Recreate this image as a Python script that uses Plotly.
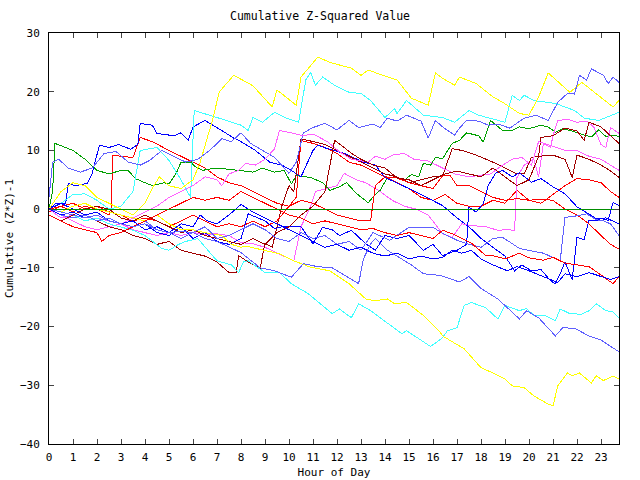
import plotly.graph_objects as go

# ---------------- data (hours, cumulative (Z*Z)-1) ----------------
yellow_hi_h = [0, 0.5, 1, 1.5, 2, 2.5, 3, 3.5, 4, 4.3, 4.6, 5, 5.5, 6, 6.3, 6.8, 7.1, 7.7, 8.5, 9.3, 9.5, 10.3, 10.5, 11.2, 11.7, 12.6, 13, 13.3, 13.9, 14.5, 15.1, 15.8, 16.1, 16.4, 16.9, 17.1, 17.8, 18.5, 18.9, 19.6, 20.0, 20.4, 20.8, 21.7, 22.2, 22.6, 23.5, 23.75]
yellow_hi_v = [0, 3, 4.5, 4, 2, 1, 0, -1, 1, 3.5, 5.5, 4, 3.5, 5, 8, 15, 20, 22.8, 21, 17.4, 20.3, 17.7, 22.5, 25.9, 25, 24, 22.8, 23.7, 22.8, 22, 18.9, 17.7, 23.2, 22.3, 21.1, 22.5, 21.4, 19.1, 18.2, 16.3, 16, 19.1, 23.2, 19.9, 21.6, 20.3, 17.4, 18.5]

yellow_lo_h = [0, 0.5, 1, 1.5, 2, 3, 4, 4.5, 5, 5.5, 6, 6.5, 7.2, 7.6, 8, 8.2, 9.6, 10.2, 10.9, 11.7, 12.5, 13.2, 13.6, 14.1, 14.4, 14.9, 15.6, 16.3, 16.4, 17.3, 18.0, 18.5, 19.0, 19.3, 19.8, 20.2, 20.8, 21.0, 21.2, 21.6, 21.8, 22.1, 22.6, 22.8, 23.1, 23.5, 23.75]
yellow_lo_v = [0, -0.5, 0.5, 1, 0, -1, -2, -1, -2.5, -3.5, -3.5, -4, -4.5, -6, -6.5, -6.3, -7.6, -8.8, -9.9, -10.5, -12.7, -15.3, -15.6, -15.3, -16.1, -15.9, -18.1, -21, -21.6, -23.8, -27, -27.9, -28.9, -30.1, -30.4, -31.8, -33.2, -33.5, -30.1, -27.9, -28.4, -27.9, -29.6, -28.4, -29.2, -28.4, -28.9]

cyan_hi_h = [0, 0.5, 1, 1.5, 2, 2.5, 3, 3.5, 3.8, 4.5, 5.0, 5.5, 5.9, 6.05, 7, 8, 8.3, 8.5, 8.9, 9.4, 9.9, 10.4, 10.7, 10.9, 11.1, 11.4, 11.9, 12.5, 13, 13.4, 14, 14.4, 14.5, 14.9, 15.6, 16.4, 16.9, 17.5, 17.9, 19.0, 19.3, 19.6, 19.8, 20.2, 21.1, 21.9, 22.3, 22.9, 23.75]
cyan_hi_v = [0, 1, 2.5, 2.6, 1.5, 0, 0.5, 3, 10, 10.5, 8.3, 5, 2, 16.8, 15.6, 14.3, 13.4, 15.6, 14.8, 16.5, 15.5, 14.8, 22, 23.3, 21.1, 22.5, 21.1, 19.9, 19.7, 18.5, 15.6, 17.1, 16.3, 18.5, 16, 15.6, 14.8, 16.8, 16, 14.8, 19.4, 18.5, 19.4, 18.5, 18, 16.8, 15.5, 15.1, 16.5]

cyan_lo_h = [0, 0.5, 1, 1.5, 2, 2.5, 3, 3.5, 4, 4.7, 5, 5.4, 5.7, 6.2, 7, 7.6, 7.9, 8.1, 8.3, 9, 9.6, 10.1, 10.8, 11.8, 12.1, 12.6, 12.9, 13.4, 14.1, 14.7, 14.9, 15.5, 15.9, 16.4, 16.6, 17.0, 17.3, 17.6, 18.2, 18.7, 19.0, 19.6, 19.9, 20.2, 20.7, 21.1, 21.3, 21.7, 22.2, 22.5, 22.8, 23.2, 23.5, 23.75]
cyan_lo_v = [0, -0.5, -1, -2, -1.5, -2.5, -3, -3.6, -4.5, -6.7, -7, -6, -5.5, -5, -8.8, -9.5, -10.8, -9, -8.8, -10.8, -10.8, -12.7, -14.4, -17.8, -17, -18.5, -16.1, -17.3, -19.4, -21.2, -20.7, -22.4, -23.4, -21.9, -20.7, -20.2, -16.4, -15.9, -16.8, -18.7, -16.4, -17.3, -16.9, -18.1, -18.2, -19, -17, -17.8, -17.9, -17.3, -16.1, -17.3, -17.5, -18.5]

mblue_hi_h = [0, 0.15, 0.4, 0.8, 1.3, 1.8, 2.3, 2.8, 3.3, 3.8, 4.2, 4.7, 5.2, 5.7, 6.2, 6.7, 7.2, 7.6, 8, 8.4, 9.4, 10, 10.3, 10.6, 11, 11.5, 12, 12.5, 12.9, 13.5, 13.8, 14.1, 14.5, 14.9, 15.5, 15.8, 16.1, 16.4, 16.9, 17.1, 17.4, 17.9, 18.3, 18.7, 19.2, 19.8, 20.3, 20.8, 21.2, 21.6, 21.9, 22.1, 22.4, 22.6, 23.1, 23.3, 23.5, 23.75]
mblue_hi_v = [2, 8, 8.5, 7, 6.3, 7, 9.5, 9.8, 8, 7.5, 8.3, 10, 9, 8, 8.5, 10, 12, 11.5, 13, 11.2, 8.8, 6.1, 8, 13, 13.9, 14.6, 13.5, 15.1, 13.9, 14.5, 13.9, 15.5, 15, 16, 15, 12.1, 15.1, 14, 12.6, 13.8, 15.1, 15, 14.3, 14.5, 13.8, 15.5, 16, 15.1, 18.2, 19.7, 19.6, 22.8, 22, 23.9, 22.8, 21.4, 22.5, 21.6]

mblue_mid_h = [0, 0.5, 1, 1.5, 2, 2.5, 3, 3.5, 4, 4.5, 5, 5.5, 6, 6.5, 7, 7.5, 8, 8.5, 9, 9.5, 10, 10.5, 11, 11.5, 12, 12.5, 13, 13.5, 14.2, 15, 16, 16.4, 17, 17.5, 18, 18.5, 18.9, 19.6, 20.6, 21.3, 21.5, 21.9, 22.4, 22.8, 23.1, 23.4, 23.75]
mblue_mid_v = [0, -1, -1.5, -1, -2, -1.5, -2.5, -3, -2, -3.5, -4, -5, -4, -3, -5, -4.5, -3.5, -2.5, -3.5, -5, -5.5, -4, -5, -4.5, -6, -5.5, -7, -4, -5.3, -3.1, -3.1, -4.1, -5.3, -6, -6.5, -5, -4.8, -6.7, -7.5, -8.8, -1.4, -1.2, -0.8, -1.8, -2, -2.5, -4.5]

mblue_lo_h = [0, 0.5, 1, 1.5, 2, 2.5, 3, 3.5, 4, 4.5, 5, 5.5, 6, 6.5, 7, 7.5, 8, 8.8, 9.4, 10.1, 10.6, 11.2, 11.8, 12.9, 13.1, 13.4, 13.6, 14.1, 14.6, 15.1, 15.6, 16.3, 17.1, 17.5, 18.0, 18.7, 19.1, 19.6, 19.9, 20.4, 21.1, 21.4, 21.9, 22.5, 23.0, 23.75]
mblue_lo_v = [0, -0.5, -1, -1.5, -1, -2, -2.5, -3, -2.5, -3.5, -4, -3.8, -4, -5, -5.5, -6.5, -7.4, -10, -10.5, -11.6, -9.3, -9.8, -10, -12.7, -8.5, -5.9, -5, -7, -8.2, -9.5, -11, -11.3, -12.4, -11.5, -13.5, -15.3, -16.8, -18.7, -17.3, -18.5, -21.6, -20.2, -20.3, -21.6, -22.3, -24.3]

blue_a_h = [0, 0.3, 0.7, 0.8, 1.1, 1.6, 1.8, 2.1, 2.5, 2.9, 3.4, 3.7, 3.8, 4.3, 4.5, 5.2, 5.5, 5.8, 6.0, 6.5, 7.2, 7.7, 8.0, 8.6, 9.2, 9.7, 10.1, 10.5, 11, 11.2, 11.6, 12.3, 13.1, 13.6, 14.0, 14.5, 15, 15.5, 16, 16.4, 17, 17.5, 18, 18.5, 19, 19.4, 19.7, 20.1, 20.5, 20.9, 21.1, 21.3, 21.5, 21.8, 22.0, 22.3, 22.5, 22.8, 23.0, 23.3, 23.5, 23.75]
blue_a_v = [0, 1, 1, 4.4, 4, 4.4, 6.1, 10.9, 10.5, 11, 10.2, 11, 14.6, 14.3, 12.9, 12.5, 13, 11.7, 14, 15.1, 13.4, 12.1, 11.5, 10, 8, 7.5, 6.6, 5.5, 10, 10.9, 10.3, 9.5, 8, 7.5, 5.4, 4.5, 3.5, 2.5, 1.5, 0.6, -1.5, -3, -5, -6.5, -8, -10.5, -9.5, -10.5, -10.3, -12.2, -12.7, -11, -9, -12, -4.8, -5.2, -1.9, -2, -1.6, -1.9, 1.1, 0.6]

blue_b_h = [0, 0.5, 1, 1.5, 2, 2.5, 3, 3.5, 4, 4.5, 5, 5.5, 6, 6.5, 7, 7.5, 8, 8.3, 9, 9.4, 9.8, 10.5, 11.0, 11.4, 11.8, 12.1, 12.6, 13.2, 13.6, 14.0, 14.5, 15, 15.6, 16, 16.4, 17, 17.4, 17.5, 17.8, 18.1, 18.3, 18.6, 18.9, 19.3, 19.6, 20.1, 20.5, 21, 21.5, 22, 22.4, 22.8, 23.2, 23.5, 23.75]
blue_b_v = [0, 1, 0, -1, -0.5, -2, -2.5, -3, -2.5, -4, -4.5, -3, -5, -4, -5.5, -6, -5, -0.8, -2, -3.3, -2.9, -3, -5.9, -3.1, -3.5, -4.5, -3.6, -5.9, -7, -4.5, -5, -4.5, -7, -6, -7.9, -7, -6, 0.3, -0.5, 1, 4, 6.1, 6.6, 5.5, 6.2, 4.6, 5.2, 3.8, 2.6, 0.4, -0.6, -1.6, -1.5, -2, -2.5]

blue_c_h = [0, 0.5, 1, 1.5, 2, 2.5, 3, 3.5, 4, 4.5, 5, 5.5, 6, 6.3, 6.6, 7, 7.5, 8, 8.5, 9, 9.5, 10, 10.5, 11, 11.5, 12, 12.5, 13, 13.5, 14, 14.5, 15, 15.5, 16, 16.4, 16.8, 17.2, 17.6, 18, 18.5, 19.1, 19.5, 20, 20.6, 21.2, 21.5, 22, 22.5, 23, 23.4, 23.75]
blue_c_v = [0, -1, -0.5, -1.5, -1, -2, -2.5, -2, -3.5, -3, -4, -2.5, -3, -1, -2, -2.5, -1, 0.8, -0.5, -1.5, -2.5, -3.5, -4.5, -5.5, -6.5, -6, -7, -6.5, -7.5, -8, -7.5, -8.5, -8, -8.5, -8.2, -7, -7.5, -7, -8.5, -9.5, -10.5, -9.8, -10.5, -11.5, -12.5, -11, -11.5, -10.8, -11.5, -12, -11.5]

green_h = [0, 0.15, 0.25, 1, 1.5, 2, 2.5, 3, 3.3, 3.6, 4, 4.3, 4.8, 5, 5.3, 5.5, 5.9, 6.1, 6.4, 6.9, 7.5, 8.0, 8.5, 8.9, 9.4, 9.8, 10.1, 10.3, 10.9, 11.4, 11.7, 12.1, 12.4, 12.8, 13.3, 13.6, 13.8, 14.1, 14.5, 14.8, 15.1, 15.4, 15.6, 15.9, 16.1, 16.4, 16.8, 17.1, 17.4, 17.9, 18.1, 18.4, 18.9, 19.3, 19.6, 20, 20.5, 20.8, 21.1, 21.4, 21.8, 22.3, 22.6, 22.9, 23.2, 23.5, 23.75]
green_v = [0, 3, 11.2, 10, 8.5, 6.6, 6, 6.6, 6.6, 5.2, 4.5, 4, 4.5, 4.3, 6.1, 8, 8, 7.2, 6.6, 7, 6.8, 6.6, 6.3, 7, 6.3, 6.6, 4.3, 5.7, 5.4, 4.5, 3.2, 3.8, 4.5, 2.7, 1.1, 2.5, 3.2, 5.4, 5.4, 4.9, 5.9, 5.5, 7.8, 7.5, 8.8, 8.6, 11.2, 11.7, 13, 12.5, 11.4, 15.1, 13.4, 13.4, 14, 13.7, 14.3, 14, 13.1, 13.7, 13.3, 12.6, 12.3, 13.5, 12.4, 12.6, 12.4]

dred_a_h = [0, 0.5, 1, 1.5, 2, 2.5, 3, 3.5, 4, 4.5, 5, 5.5, 6, 6.5, 7, 7.5, 7.8, 7.9, 8.3, 8.8, 9.0, 9.3, 9.7, 10.0, 10.2, 10.5, 11, 11.5, 12, 12.5, 13, 13.5, 14, 14.5, 15, 15.5, 16, 16.4, 16.6, 16.8, 17.2, 17.8, 18.5, 19, 19.5, 19.8, 20.1, 20.4, 20.5, 21, 21.5, 22, 22.3, 22.5, 23, 23.4, 23.75]
dred_a_v = [0, -1, -1.5, -1, -2, -3, -3.5, -4.5, -5, -6, -5.5, -7, -7.5, -8, -9, -10.8, -10.8, -7.9, -9, -10, -5.8, -6.5, 0.5, 4, 3, 12, 11.5, 11, 10, 9, 8, 7, 6, 5.5, 4.5, 5, 5.5, 5.7, 8, 10.3, 10, 9.2, 8, 7, 6, 6, 8.8, 9, 12.2, 12.5, 13.8, 13.3, 11.7, 14.8, 14, 12.5, 11.2]

dred_b_h = [0, 0.5, 1, 1.5, 2, 2.5, 3, 3.5, 4, 4.5, 5, 5.5, 6, 6.5, 7, 7.5, 8, 8.5, 9, 9.5, 10, 10.5, 11, 11.5, 11.9, 12.3, 12.6, 13, 13.5, 14, 14.5, 15, 15.5, 16, 16.5, 17, 17.5, 18, 18.5, 19, 19.5, 20, 20.4, 21, 21.5, 21.8, 22, 22.5, 23, 23.4, 23.75]
dred_b_v = [-1, -2, -1, 0, 0.5, 0, -1.5, -2, -1, -2, -3, -4, -3.5, -4.5, -5, -5.5, -6, -5, -6, -4, -3, -1, 0.5, 3, 11.7, 10.5, 9.5, 8.5, 7.5, 7, 5.3, 5, 4, 5, 6, 6.5, 6, 5.5, 7, 5.5, 4, 5, 9, 9.2, 8.5, 5.4, 9.2, 8.5, 7.5, 6.5, 5.4]

red_a_h = [0, 0.5, 1, 1.5, 2, 2.5, 2.6, 2.65, 3, 3.5, 3.8, 4.3, 5, 5.5, 6, 6.5, 7, 7.5, 8, 8.5, 9, 9.5, 10, 10.3, 10.5, 11, 11.5, 12, 12.5, 13, 13.5, 14, 14.5, 15, 15.5, 16, 16.5, 17, 17.5, 18, 18.5, 19, 19.5, 20, 20.5, 21, 21.5, 22, 22.5, 23, 23.4, 23.75]
red_a_v = [-0.5, 0.5, -0.5, 0.5, 0, -1, 0.5, 9.2, 9, 8.8, 12.2, 11.5, 10, 9, 8, 7, 5.5, 4.5, 4, 3, 2, 1, 0.5, 2, 11.7, 11.2, 10.5, 9.5, 8, 7.5, 6.5, 5.5, 4.5, 3.5, 2, 1.5, 2.5, 1, 0.5, 0.5, 1.5, 1, 3.2, 1.5, 1, 2.5, 4, 5.2, 5, 4.5, 3, 2]

red_b_h = [0, 0.5, 1, 1.5, 2, 2.5, 3, 3.5, 4, 4.5, 5, 5.5, 6, 6.5, 7, 7.5, 8, 8.5, 9, 9.5, 10, 10.5, 11, 11.5, 12, 12.5, 13, 13.4, 13.6, 14, 14.5, 15, 15.5, 16, 16.4, 16.7, 17, 17.5, 18, 18.5, 19, 19.5, 20, 20.5, 21.0, 21.5, 22, 22.5, 23, 23.4, 23.75]
red_b_v = [0, 0.5, 1, 0, 0.5, -0.5, -1, -2, -1.5, -2, -3, -2, -1, -2, -3, -2.5, -3, -2, -3, -2, 0.5, 1.5, 1, 0, -1, -1.5, -2, -2, 4, 5.5, 5.3, 4.5, 4, 3.5, 5.7, 5.8, 4, 4, 3, 2, 1.5, 1.8, 1.5, 1.7, 1.5, 0, -1, -2.5, -4.5, -6, -6.8]

red_c_h = [0, 0.5, 1, 1.5, 2, 2.2, 2.5, 3, 3.5, 4, 4.5, 5, 5.5, 6, 6.5, 7, 7.5, 8, 8.5, 9, 9.5, 10, 10.5, 11, 11.5, 12, 12.5, 13, 13.5, 14, 14.5, 15, 15.5, 16, 16.4, 16.8, 17.2, 17.6, 18.2, 18.6, 19, 19.6, 20, 20.6, 21, 21.5, 22, 22.5, 23.1, 23.5, 23.75]
red_c_v = [-1, -2, -3, -3.5, -4, -5.5, -4.5, -4, -3, -2, -1, 0, 1, 2, 1.5, 2, 1.5, 3, 2, 1, 0, -1, -1.5, -2.5, -2, -2.5, -3, -3.5, -3.3, -4, -4.5, -4, -4.5, -5, -3.6, -4.2, -5, -5.8, -7.9, -8, -8.5, -7.5, -8.3, -8.7, -8.2, -9.2, -9.5, -9.8, -11.5, -12.7, -11.5]

mag_a_h = [0, 0.5, 1, 1.5, 2, 2.5, 3, 3.5, 4, 4.5, 5, 5.5, 6, 6.5, 7, 7.5, 8, 8.5, 9, 9.5, 10, 10.2, 10.5, 10.9, 11.1, 11.5, 12, 12.3, 12.8, 13.2, 13.8, 14.3, 14.8, 15.3, 15.8, 16.4, 16.8, 17.2, 17.6, 18.2, 18.7, 19.1, 19.4, 19.5, 19.8, 20.2, 20.4, 20.6, 20.9, 21.0, 21.2, 21.6, 22, 22.4, 22.7, 23, 23.2, 23.4, 23.75]
mag_a_v = [0, -1, -2, -3, -3.5, -3, -2.5, -3.5, -4, -4.5, -4, -4.5, -4, -4.3, -4.2, -4.5, -5.7, -5.9, -6.5, -7.5, -8.5, -8.8, -3, 0.5, 3, 3.5, 4, 6.1, 5, 4.5, 3, 1.5, 0.5, 0, -1, -4.2, -4.8, -2.5, -2.8, -3, -3.6, -3.5, -3.6, 5.4, 7.5, 8.5, 5.5, 11.2, 10.5, 12.5, 15.1, 15.3, 14.8, 15, 14, 11, 10.5, 13.9, 12.9]

mag_b_h = [0, 0.5, 1, 1.5, 2, 2.5, 3, 3.5, 4, 4.5, 5, 5.5, 6, 6.5, 7, 7.2, 7.5, 7.9, 8.2, 8.6, 9, 9.4, 9.6, 10.1, 10.6, 11, 11.6, 12.1, 12.6, 13.3, 13.6, 14, 14.3, 14.8, 15.2, 15.8, 16.4, 16.9, 17.5, 18.4, 18.9, 19.3, 19.7, 20.1, 20.4, 20.8, 21.2, 21.5, 22, 22.5, 23, 23.4, 23.75]
mag_b_v = [0, -1.5, -1, -2, -1.5, -2, -2.5, -1.5, -0.5, 0.5, 2, 3, 4, 5.5, 5, 4, 6, 6.6, 7.8, 7.5, 8.5, 10.3, 13.4, 13, 12.5, 12.8, 11.5, 9.8, 8.5, 8, 9, 8.5, 9.2, 9.5, 8.5, 8.2, 7, 6, 5.5, 6, 7.5, 8.5, 8.8, 7.5, 11.5, 11, 10.5, 10, 10, 9, 8.5, 7.5, 6.6]

zero_h = [0, 23.75]
zero_v = [0, 0]

X_RANGE = [0, 23.75]
Y_RANGE = [-40, 30]
x_ticks = list(range(0, 24))
y_ticks = [-40, -30, -20, -10, 0, 10, 20, 30]

RED, DRED, GREEN, BLUE = "#ff0000", "#a00000", "#00a000", "#0000ff"
MBLUE, MAG, CYAN, YEL = "#6060ff", "#ff60ff", "#40ffff", "#ffff00"
ZERO = "#008c00"

series = [
    (red_a_h, red_a_v, RED), (green_h, green_v, GREEN), (blue_a_h, blue_a_v, BLUE),
    (mag_a_h, mag_a_v, MAG), (cyan_hi_h, cyan_hi_v, CYAN), (dred_a_h, dred_a_v, DRED),
    (yellow_hi_h, yellow_hi_v, YEL), (mblue_hi_h, mblue_hi_v, MBLUE),
    (red_b_h, red_b_v, RED), (blue_b_h, blue_b_v, BLUE), (mag_b_h, mag_b_v, MAG),
    (cyan_lo_h, cyan_lo_v, CYAN), (dred_b_h, dred_b_v, DRED), (yellow_lo_h, yellow_lo_v, YEL),
    (mblue_mid_h, mblue_mid_v, MBLUE), (red_c_h, red_c_v, RED), (blue_c_h, blue_c_v, BLUE),
    (mblue_lo_h, mblue_lo_v, MBLUE), (zero_h, zero_v, ZERO),
]

fig = go.Figure()
for hx, vy, col in series:
    fig.add_trace(go.Scatter(x=hx, y=vy, mode="lines", line=dict(color=col, width=1),
                             showlegend=False, hoverinfo="skip"))

FONT = dict(family="DejaVu Sans Mono", size=11, color="black")
fig.update_layout(
    width=640, height=480,
    margin=dict(l=49, r=21, t=33, b=36, autoexpand=False),
    paper_bgcolor="white", plot_bgcolor="white",
    font=FONT,
    title=dict(text="Cumulative Z-Squared Value", x=0.5, xanchor="center",
               y=1 - 16 / 480, yanchor="middle", yref="container",
               font=dict(family="DejaVu Sans Mono", size=11.5, color="black")),
    xaxis=dict(range=X_RANGE, tickmode="array", tickvals=x_ticks, ticks="inside", ticklen=5,
               showline=True, linecolor="black", linewidth=1, mirror="ticks", showgrid=False,
               zeroline=False, tickfont=FONT, ticklabelstandoff=3, automargin=False,
               title=dict(text="Hour of Day", font=FONT, standoff=5)),
    yaxis=dict(range=Y_RANGE, tickmode="array", tickvals=y_ticks, ticks="inside", ticklen=5,
               showline=True, linecolor="black", linewidth=1, mirror="ticks", showgrid=False,
               zeroline=False, tickfont=FONT, ticklabelstandoff=6, automargin=False,
               title=dict(text="Cumulative (Z*Z)-1", font=FONT, standoff=4)),
)

fig.write_html("out.html", post_script=(
    "document.querySelectorAll('.scatterlayer path').forEach(function(p){"
    "p.style.shapeRendering='crispEdges';});"))
